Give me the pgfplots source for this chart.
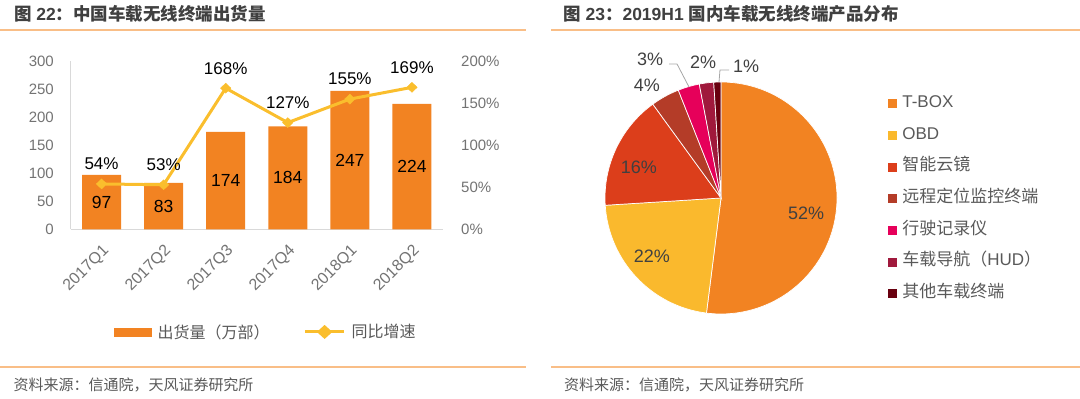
\documentclass[border=0pt]{standalone}
\usepackage{pgfplots}
\pgfplotsset{compat=1.18}
\usepackage{fontspec}
\setmainfont{Liberation Sans}
\newfontfamily\cjk{Noto Sans CJK SC}
\definecolor{barorange}{RGB}{242,131,34}
\definecolor{lineyellow}{RGB}{250,190,45}
\definecolor{sepline}{RGB}{249,190,135}
\definecolor{titlegray}{RGB}{64,64,64}
\definecolor{txtgray}{RGB}{89,89,89}
\definecolor{tickgray}{RGB}{115,115,115}
\definecolor{axisgray}{RGB}{217,217,217}
\definecolor{pc1}{RGB}{242,131,34}
\definecolor{pc2}{RGB}{250,185,45}
\definecolor{pc3}{RGB}{220,62,27}
\definecolor{pc4}{RGB}{180,60,40}
\definecolor{pc5}{RGB}{230,0,90}
\definecolor{pc6}{RGB}{160,25,60}
\definecolor{pc7}{RGB}{105,0,15}
\pgfplotsset{/pgf/number format/assume math mode=true}
% slice: start (cumulative %), value (%), colour
\newcommand{\slice}[3]{%
  \fill[#3, draw=white, line width=0.7pt] (axis cs:0,0) -- (axis cs:{cos(90-3.6*#1)},{sin(90-3.6*#1)})
    arc[start angle={90-3.6*#1}, end angle={90-3.6*(#1+#2)}, radius=116pt] -- cycle;}
\begin{document}
\begin{tikzpicture}[x=1pt,y=1pt]
\path[use as bounding box] (0,0) rectangle (1080,399);
% separators
\draw[sepline, line width=1.8pt] (0,369) -- (526,369);
\draw[sepline, line width=1.8pt] (551,369) -- (1080,369);
\draw[sepline, line width=1.8pt] (0,32) -- (526,32);
\draw[sepline, line width=1.8pt] (551,32) -- (1080,32);
% titles
\node[anchor=west, inner sep=0pt, text=titlegray, font=\bfseries\fontsize{17.5}{18}\selectfont] at (13.8,385)
  {{\cjk\bfseries 图} 22{\cjk\bfseries ：中国车载无线终端出货量}};
\node[anchor=west, inner sep=0pt, text=titlegray, font=\bfseries\fontsize{17.5}{18}\selectfont] at (563,385)
  {{\cjk\bfseries 图} 23{\cjk\bfseries ：}2019H1 {\cjk\bfseries 国内车载无线终端产品分布}};
% sources
\node[anchor=west, inner sep=0pt, text=txtgray, font=\cjk\fontsize{15}{15}\selectfont] at (13.3,14) {资料来源：信通院，天风证券研究所};
\node[anchor=west, inner sep=0pt, text=txtgray, font=\cjk\fontsize{15}{15}\selectfont] at (564,14) {资料来源：信通院，天风证券研究所};

% ---------- bars ----------
\begin{axis}[
  at={(70.5pt,169.7pt)}, anchor=south west,
  scale only axis, width=372.5pt, height=168pt,
  xmin=-0.5, xmax=5.5, ymin=0, ymax=300,
  axis x line*=bottom, axis y line*=left,
  axis line style={-, draw=axisgray, line width=0.8pt},
  tick style={draw=none},
  xtick={0,...,5},
  xticklabels={2017Q1,2017Q2,2017Q3,2017Q4,2018Q1,2018Q2},
  xticklabel style={rotate=45, anchor=north east, font=\fontsize{16}{16}\selectfont, text=tickgray, inner sep=0pt},
  xticklabel shift=14pt,
  ytick={0,50,...,300},
  yticklabel style={font=\fontsize{15}{15}\selectfont, text=tickgray, inner sep=0pt},
  yticklabel shift=16.5pt,
  clip=false,
]
\addplot[ybar, bar width=39pt, fill=barorange, draw=none,
  nodes near coords,
  visualization depends on={rawy \as \rawy},
  every node near coord/.append style={anchor=center, text=black, font=\fontsize{17.5}{17.5}\selectfont,
     shift={(axis direction cs:0,{-0.5*\rawy})}}]
  coordinates {(0,97) (1,83) (2,174) (3,184) (4,247) (5,224)};
\end{axis}

% ---------- growth line ----------
\begin{axis}[
  at={(70.5pt,169.7pt)}, anchor=south west,
  scale only axis, width=372.5pt, height=168pt,
  xmin=-0.5, xmax=5.5, ymin=0, ymax=200,
  axis x line=none, axis y line*=right,
  y axis line style={draw=none},
  tick style={draw=none},
  ytick={0,50,...,200},
  yticklabel={\pgfmathprintnumber{\tick}\%},
  yticklabel style={font=\fontsize{15}{15}\selectfont, text=tickgray, inner sep=0pt},
  yticklabel shift=18pt,
  clip=false,
  legend columns=2,
  legend style={at={(0.1168,-0.611)}, anchor=west, draw=none, fill=none,
    font=\cjk\fontsize{16}{16}\selectfont, text=txtgray, inner sep=0pt,
    nodes={inner sep=0pt},
    /tikz/every odd column/.append style={column sep=6pt},
    /tikz/every even column/.append style={column sep=34pt}},
]
\addlegendimage{legend image code/.code={\fill[barorange] (0pt,-4pt) rectangle (37pt,4pt);}}
\addlegendentry{出货量（万部）}
\addplot[lineyellow, line width=3pt, mark=diamond*, mark size=5pt,
  mark options={fill=lineyellow, draw=lineyellow, line width=0.4pt, xscale=1.4},
  nodes near coords={\pgfmathprintnumber{\pgfplotspointmeta}\%},
  every node near coord/.append style={anchor=center, yshift=20pt, text=black, font=\fontsize{17}{17}\selectfont},
  legend image code/.code={\draw[lineyellow, line width=3pt] (0pt,0pt) -- (39pt,0pt);
     \fill[lineyellow] (19.5pt,5pt) -- (25pt,0pt) -- (19.5pt,-5pt) -- (14pt,0pt) -- cycle;}]
  coordinates {(0,54) (1,53) (2,168) (3,127) (4,155) (5,169)};
\addlegendentry{同比增速}
\end{axis}

% ---------- pie ----------
\begin{axis}[
  at={(721pt,201pt)}, anchor=center,
  x=116pt, y=116pt, xmin=-1, xmax=1, ymin=-1, ymax=1,
  hide axis, clip=false,
  legend cell align=left,
  legend style={at={(1.22,0.943)}, anchor=north west, draw=none, fill=none,
    font=\cjk\fontsize{17}{17}\selectfont, text=txtgray, inner sep=0pt,
    nodes={inner sep=0pt, text height=12pt, text depth=4pt},
    row sep=15.67pt,
    /tikz/every odd column/.append style={column sep=5.7pt}},
]
\slice{0}{52}{pc1}
\slice{52}{22}{pc2}
\slice{74}{16}{pc3}
\slice{90}{4}{pc4}
\slice{94}{3}{pc5}
\slice{97}{2}{pc6}
\slice{99}{1}{pc7}
\draw[gray!70, line width=0.8pt] (axis cs:-0.448,1.155) -- (axis cs:-0.379,1.155) -- (axis cs:-0.276,0.957);
\draw[gray!70, line width=0.8pt] (axis cs:0.069,1.103) -- (axis cs:-0.009,1.103) -- (axis cs:-0.017,1.0);
\node[text=titlegray, font=\fontsize{18}{18}\selectfont] at (axis cs:0.733,-0.129) {52\%};
\node[text=titlegray, font=\fontsize{18}{18}\selectfont] at (axis cs:-0.595,-0.5) {22\%};
\node[text=titlegray, font=\fontsize{18}{18}\selectfont] at (axis cs:-0.707,0.267) {16\%};
\node[text=titlegray, font=\fontsize{18}{18}\selectfont] at (axis cs:-0.638,0.974) {4\%};
\node[text=titlegray, font=\fontsize{18}{18}\selectfont] at (axis cs:-0.612,1.198) {3\%};
\node[text=titlegray, font=\fontsize{18}{18}\selectfont] at (axis cs:-0.155,1.172) {2\%};
\node[text=titlegray, font=\fontsize{18}{18}\selectfont] at (axis cs:0.216,1.138) {1\%};
\addlegendimage{legend image code/.code={\fill[pc1] (0pt,-4pt) rectangle (8pt,4pt);}}
\addlegendentry{{\rmfamily T-BOX}}
\addlegendimage{legend image code/.code={\fill[pc2] (0pt,-4pt) rectangle (8pt,4pt);}}
\addlegendentry{{\rmfamily OBD}}
\addlegendimage{legend image code/.code={\fill[pc3] (0pt,-4pt) rectangle (8pt,4pt);}}
\addlegendentry{智能云镜}
\addlegendimage{legend image code/.code={\fill[pc4] (0pt,-4pt) rectangle (8pt,4pt);}}
\addlegendentry{远程定位监控终端}
\addlegendimage{legend image code/.code={\fill[pc5] (0pt,-4pt) rectangle (8pt,4pt);}}
\addlegendentry{行驶记录仪}
\addlegendimage{legend image code/.code={\fill[pc6] (0pt,-4pt) rectangle (8pt,4pt);}}
\addlegendentry{车载导航（{\rmfamily HUD}）}
\addlegendimage{legend image code/.code={\fill[pc7] (0pt,-4pt) rectangle (8pt,4pt);}}
\addlegendentry{其他车载终端}
\end{axis}
\end{tikzpicture}
\end{document}
